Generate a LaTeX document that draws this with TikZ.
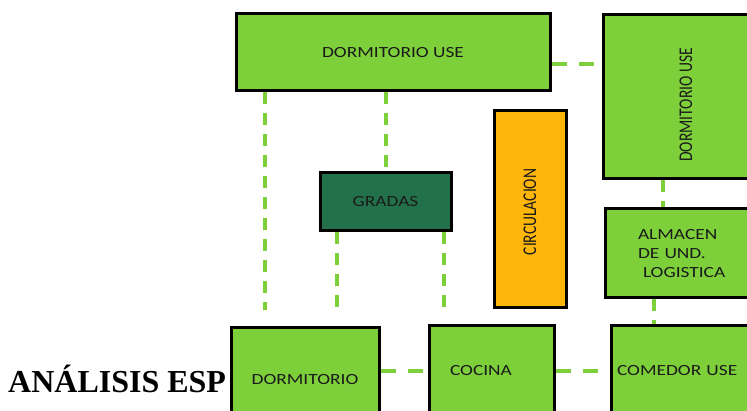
\documentclass[tikz,border=0pt]{standalone}
\usepackage{fontspec}
\usetikzlibrary{backgrounds}
\setmainfont{Liberation Serif}
\newfontfamily\boxfont[FakeStretch=1.25]{Carlito}
\newfontfamily\boxfontn{Carlito}
\definecolor{lg}{HTML}{7ED03B}
\definecolor{dg}{HTML}{23714A}
\definecolor{og}{HTML}{FFB60A}
\definecolor{tx}{HTML}{1A1A1A}
\newcommand{\vtext}[1]{\scalebox{1.25}[1]{\rotatebox{90}{\boxfontn\fontsize{15.5}{19}\selectfont #1}}}
\tikzset{
  box/.style={draw=black, line width=3pt, fill=lg, inner sep=0pt,
    font=\boxfont\fontsize{15.5}{19}\selectfont, text=tx},
  conn/.style={draw=lg, line width=4pt, dash pattern=on 12pt off 9pt},
  connh/.style={draw=lg, line width=4pt, dash pattern=on 15pt off 12pt}
}
\begin{document}
\begin{tikzpicture}[x=1pt,y=-1pt]
\useasboundingbox (0,0) rectangle (747,411);
\clip (0,0) rectangle (747,411);

\coordinate (e1) at (265,310);
\coordinate (e2) at (337,315);
\coordinate (e3) at (444,315);
\coordinate (x663) at (663,0);
\coordinate (x654) at (654,0);

\node[anchor=base west, font=\bfseries\fontsize{32}{38}\selectfont, inner sep=0pt] (title) at (8,393) {ANÁLISIS ESP};

\node[box, minimum width=314pt, minimum height=77pt] (dtop) at (393,52.5) {DORMITORIO USE};
\node[box, minimum width=166pt, minimum height=164pt] (dright) at (686,97) {\vtext{DORMITORIO USE\hspace*{16pt}}};
\node[box, fill=dg, minimum width=131pt, minimum height=58pt] (gradas) at (385.5,202) {GRADAS};
\node[box, fill=og, minimum width=72pt, minimum height=197pt] (circ) at (530,209.5) {\vtext{CIRCULACION\hspace*{5pt}}};
\node[box, minimum width=160pt, minimum height=89pt, text width=94pt, align=left] (almacen) at (685,253.5) {ALMACEN\\DE UND.\\\hspace*{5pt}LOGISTICA};
\node[box, minimum width=148pt, minimum height=104pt] (dorm) at (305,380) {DORMITORIO};
\node[box, minimum width=125pt, minimum height=90pt, text width=83pt, align=left] (cocina) at (491.5,371) {COCINA};
\node[box, minimum width=180pt, minimum height=90pt, text width=168pt, align=left] (comedor) at (701,371) {COMEDOR USE};

\begin{pgfonlayer}{background}
\fill[white] (0,0) rectangle (747,411);
\draw[connh] ([yshift=-11.5pt]dtop.east) -- ([yshift=-11.5pt]dtop.east -| dright.west);
\draw[conn] (dtop.south -| e1) -- (e1);
\draw[conn] (gradas.north |- dtop.south) -- (gradas.north);
\draw[conn] (gradas.south -| e2) -- (e2);
\draw[conn] (gradas.south -| e3) -- (e3);
\draw[conn] (dright.south -| x663) -- (almacen.north -| x663);
\draw[conn] (almacen.south -| x654) -- (comedor.north -| x654);
\draw[connh] (cocina.west -| dorm.east) -- (cocina.west);
\draw[connh] (cocina.east) -- (cocina.east -| comedor.west);
\end{pgfonlayer}
\end{tikzpicture}
\end{document}
